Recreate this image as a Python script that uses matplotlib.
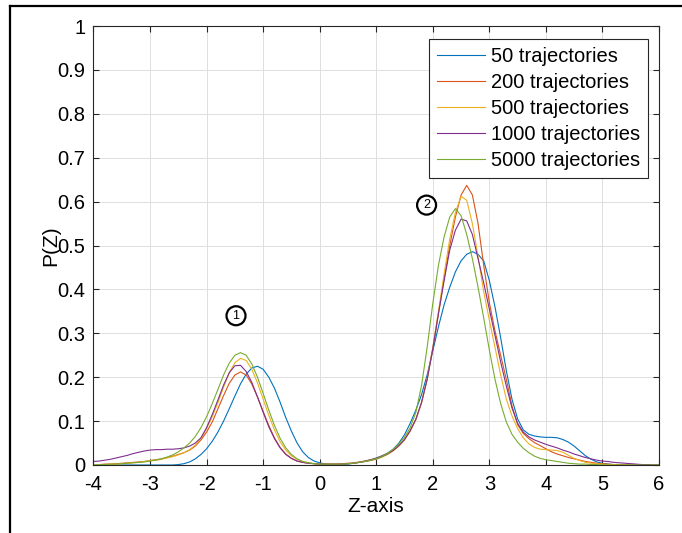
import numpy as np
import matplotlib
matplotlib.use("Agg")
import matplotlib.pyplot as plt
from matplotlib.lines import Line2D

plt.rcParams['font.family'] = ['Liberation Sans', 'DejaVu Sans']
plt.rcParams['axes.unicode_minus'] = False

# shared Z grid (-4 .. 6, step 0.1)
z = np.round(np.linspace(-4, 6, 101), 1)

series_labels = ["50 trajectories", "200 trajectories", "500 trajectories",
                 "1000 trajectories", "5000 trajectories"]
series_colors = ["#0072BD", "#D95319", "#EDB120", "#7E2F8E", "#77AC30"]

p_50 = [
    0, 0, 0, 0, 0, 0, 0, 0, 0, 0,
    0, 0, 0, 0, 0, 0.001, 0.003, 0.007, 0.014, 0.024,
    0.037, 0.054, 0.075, 0.100, 0.128, 0.157, 0.185, 0.207, 0.221, 0.225,
    0.218, 0.200, 0.175, 0.143, 0.108, 0.077, 0.050, 0.030, 0.017, 0.009,
    0.005, 0.002, 0.001, 0.001, 0.001, 0.002, 0.004, 0.006, 0.009, 0.012,
    0.016, 0.021, 0.027, 0.036, 0.050, 0.069, 0.095, 0.125, 0.160, 0.205,
    0.260, 0.315, 0.365, 0.405, 0.440, 0.465, 0.480, 0.486, 0.480, 0.465,
    0.420, 0.360, 0.290, 0.215, 0.150, 0.105, 0.080, 0.070, 0.066, 0.064,
    0.063, 0.063, 0.062, 0.058, 0.052, 0.043, 0.032, 0.021, 0.013, 0.007,
    0.004, 0.002, 0.001, 0, 0, 0, 0, 0, 0, 0,
    0]

p_200 = [
    0.001, 0.001, 0.002, 0.002, 0.003, 0.004, 0.005, 0.006, 0.007, 0.008,
    0.010, 0.012, 0.014, 0.017, 0.020, 0.024, 0.028, 0.034, 0.043, 0.057,
    0.075, 0.098, 0.128, 0.158, 0.186, 0.205, 0.212, 0.205, 0.184, 0.155,
    0.122, 0.090, 0.062, 0.040, 0.025, 0.015, 0.009, 0.006, 0.004, 0.003,
    0.002, 0.002, 0.002, 0.002, 0.003, 0.004, 0.005, 0.007, 0.009, 0.012,
    0.015, 0.020, 0.026, 0.034, 0.044, 0.058, 0.078, 0.104, 0.142, 0.195,
    0.265, 0.345, 0.425, 0.500, 0.565, 0.615, 0.637, 0.615, 0.550, 0.455,
    0.370, 0.305, 0.250, 0.195, 0.135, 0.092, 0.072, 0.060, 0.051, 0.044,
    0.037, 0.030, 0.025, 0.021, 0.017, 0.014, 0.011, 0.008, 0.006, 0.004,
    0.003, 0.002, 0.001, 0.001, 0, 0, 0, 0, 0, 0,
    0]

p_500 = [
    0.001, 0.001, 0.001, 0.002, 0.002, 0.003, 0.004, 0.005, 0.006, 0.008,
    0.010, 0.011, 0.013, 0.016, 0.019, 0.023, 0.028, 0.035, 0.045, 0.060,
    0.083, 0.110, 0.142, 0.177, 0.210, 0.233, 0.243, 0.238, 0.218, 0.187,
    0.150, 0.113, 0.080, 0.053, 0.034, 0.021, 0.013, 0.008, 0.005, 0.003,
    0.002, 0.002, 0.002, 0.002, 0.002, 0.003, 0.004, 0.006, 0.008, 0.010,
    0.013, 0.018, 0.024, 0.032, 0.043, 0.057, 0.077, 0.103, 0.141, 0.195,
    0.268, 0.350, 0.435, 0.515, 0.575, 0.612, 0.603, 0.550, 0.475, 0.395,
    0.330, 0.268, 0.205, 0.150, 0.112, 0.083, 0.062, 0.048, 0.040, 0.036,
    0.035, 0.034, 0.033, 0.029, 0.022, 0.015, 0.010, 0.006, 0.004, 0.003,
    0.002, 0.001, 0.001, 0, 0, 0, 0, 0, 0, 0,
    0]

p_1000 = [
    0.008, 0.009, 0.011, 0.013, 0.016, 0.019, 0.022, 0.026, 0.029, 0.032,
    0.034, 0.035, 0.035, 0.036, 0.036, 0.037, 0.039, 0.043, 0.050, 0.062,
    0.085, 0.115, 0.148, 0.182, 0.210, 0.226, 0.227, 0.213, 0.188, 0.155,
    0.120, 0.087, 0.060, 0.039, 0.024, 0.015, 0.009, 0.006, 0.004, 0.003,
    0.002, 0.002, 0.002, 0.002, 0.002, 0.003, 0.004, 0.006, 0.008, 0.011,
    0.014, 0.019, 0.025, 0.033, 0.044, 0.058, 0.078, 0.104, 0.142, 0.195,
    0.265, 0.345, 0.420, 0.490, 0.535, 0.560, 0.556, 0.525, 0.470, 0.415,
    0.355, 0.295, 0.235, 0.180, 0.130, 0.095, 0.075, 0.064, 0.057, 0.052,
    0.047, 0.043, 0.039, 0.034, 0.030, 0.025, 0.021, 0.017, 0.014, 0.011,
    0.009, 0.008, 0.006, 0.005, 0.004, 0.003, 0.002, 0.001, 0.001, 0,
    0]

p_5000 = [
    0.000, 0.001, 0.001, 0.002, 0.002, 0.003, 0.004, 0.005, 0.006, 0.007,
    0.009, 0.011, 0.014, 0.018, 0.023, 0.030, 0.039, 0.050, 0.065, 0.085,
    0.110, 0.140, 0.172, 0.205, 0.232, 0.250, 0.256, 0.250, 0.230, 0.200,
    0.163, 0.125, 0.090, 0.061, 0.039, 0.024, 0.014, 0.008, 0.005, 0.003,
    0.002, 0.002, 0.002, 0.002, 0.002, 0.003, 0.004, 0.006, 0.008, 0.011,
    0.014, 0.019, 0.026, 0.036, 0.048, 0.063, 0.085, 0.120, 0.180, 0.268,
    0.368, 0.455, 0.520, 0.565, 0.584, 0.568, 0.525, 0.470, 0.405, 0.335,
    0.262, 0.195, 0.140, 0.098, 0.070, 0.052, 0.038, 0.028, 0.020, 0.015,
    0.012, 0.010, 0.008, 0.006, 0.004, 0.003, 0.002, 0.002, 0.001, 0.001,
    0, 0, 0, 0, 0, 0, 0, 0, 0, 0,
    0]

series_values = [p_50, p_200, p_500, p_1000, p_5000]

x_ticks = [-4, -3, -2, -1, 0, 1, 2, 3, 4, 5, 6]
y_ticks = [0, 0.1, 0.2, 0.3, 0.4, 0.5, 0.6, 0.7, 0.8, 0.9, 1]
y_tick_labels = ["0", "0.1", "0.2", "0.3", "0.4", "0.5", "0.6", "0.7", "0.8", "0.9", "1"]

annotations = [("1", -1.48, 0.34), ("2", 1.89, 0.592)]

W, H = 682, 533
fig = plt.figure(figsize=(W / 100, H / 100), dpi=100)
ax = fig.add_axes([93.5 / W, 68 / H, 565.5 / W, 439 / H])

for vals, lab, col in zip(series_values, series_labels, series_colors):
    ax.plot(z, vals, color=col, lw=0.8, label=lab)

ax.set_xlim(-4, 6)
ax.set_ylim(0, 1)
ax.set_xticks(x_ticks)
ax.set_xticklabels([str(t) for t in x_ticks])
ax.set_yticks(y_ticks)
ax.set_yticklabels(y_tick_labels)
ax.grid(True, color="#dedede", lw=0.7)
ax.set_axisbelow(True)
ax.tick_params(direction="in", top=True, right=True, length=4, width=0.8,
               color="#262626", labelsize=14.5, labelcolor="black")
ax.tick_params(axis="x", pad=7)
ax.tick_params(axis="y", pad=6)
for s in ax.spines.values():
    s.set_color("#262626")
    s.set_linewidth(0.8)

ax.set_xlabel("Z-axis", fontsize=15, labelpad=2)
ax.set_ylabel("P(Z)", fontsize=15, labelpad=-2)

for txt, xv, yv in annotations:
    ax.text(xv, yv, txt, fontsize=9, ha="center", va="center",
            bbox=dict(boxstyle="circle,pad=0.28", fc="white", ec="black", lw=1.6))

leg = ax.legend(loc="upper right", bbox_to_anchor=(647.7 / W, 1 - 39.3 / H),
                bbox_transform=fig.transFigure, borderaxespad=0,
                fontsize=14.5, frameon=True, fancybox=False, framealpha=1,
                edgecolor="#262626", handlelength=2.4, handletextpad=0.25,
                labelspacing=0.34, borderpad=0.4)
leg.get_frame().set_linewidth(0.8)

# outer frame (left and top edges visible)
fig.add_artist(Line2D([10 / W, 10 / W], [0, 1 - 6 / H], transform=fig.transFigure,
                      color="black", lw=1.6))
fig.add_artist(Line2D([10 / W, 1], [1 - 6 / H, 1 - 6 / H], transform=fig.transFigure,
                      color="black", lw=1.6))

fig.savefig("out.png", dpi=100)
